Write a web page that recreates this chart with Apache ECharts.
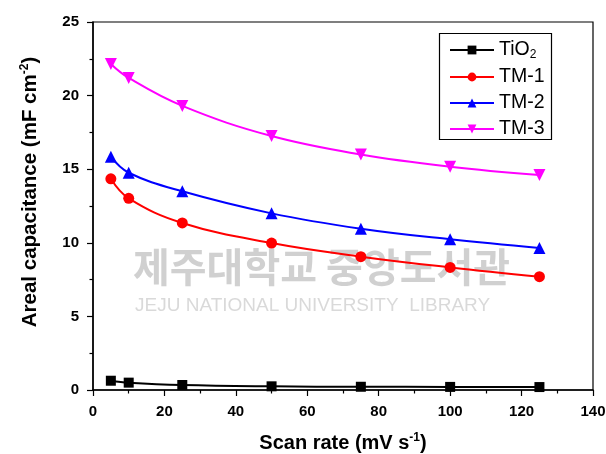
<!DOCTYPE html>
<html><head><meta charset="utf-8">
<script src="https://cdn.jsdelivr.net/npm/echarts@6/dist/echarts.min.js"></script>
<style>html,body{margin:0;padding:0;background:#fff}#c{width:606px;height:454px}</style>
</head><body><div id="c"></div>
<script>
const scanRates = [5, 10, 25, 50, 75, 100, 125];
const tio2 = [0.63, 0.5, 0.34, 0.25, 0.22, 0.21, 0.2];
const tm1 = [14.35, 13.02, 11.35, 9.98, 9.06, 8.33, 7.7];
const tm2 = [15.85, 14.76, 13.5, 12.0, 10.96, 10.24, 9.65];
const tm3 = [22.15, 21.2, 19.3, 17.25, 16.0, 15.17, 14.6];
const xTicks = [0, 20, 40, 60, 80, 100, 120, 140];
const yTicks = [0, 5, 10, 15, 20, 25];
const seriesNames = ['TiO2', 'TM-1', 'TM-2', 'TM-3'];

const font = '"Liberation Sans", Arial, sans-serif';
const chart = echarts.init(document.getElementById('c'), null, {renderer: 'canvas'});
const pairs = arr => scanRates.map((x, i) => [x, arr[i]]);
function mk(name, data, color, symbol, size, rot) {
  return {
    name, type: 'line', data: pairs(data), smooth: 0.4,
    symbol, symbolSize: size, symbolRotate: rot || 0,
    lineStyle: {color, width: 2}, itemStyle: {color},
    z: 5
  };
}
const titleRich = (fs) => ({
  t: {fontFamily: font, fontWeight: 'bold', fontSize: fs, color: '#000'},
  sup: {fontFamily: font, fontWeight: 'bold', fontSize: 12, color: '#000', verticalAlign: 'top', padding: [0, 0, 10, 0]}
});
chart.setOption({
  animation: false,
  backgroundColor: '#fff',
  grid: {left: 93, right: 13, top: 22, bottom: 64, show: true, borderColor: '#000', borderWidth: 1.2,
    containLabel: false, outerBoundsMode: 'none'},
  xAxis: {
    type: 'value', min: 0, max: 140, interval: 20,
    axisLine: {show: true, lineStyle: {color: '#000', width: 1.5}},
    axisTick: {show: true, inside: false, length: 6, lineStyle: {color: '#000', width: 1.2}},
    minorTick: {show: true, splitNumber: 2, length: 3.5, lineStyle: {color: '#000', width: 1.2}},
    splitLine: {show: false},
    axisLabel: {color: '#000', fontFamily: font, fontWeight: 'bold', fontSize: 15, margin: 14,
      formatter: v => xTicks.includes(v) ? String(v) : ''},
    name: '{t|Scan rate (mV s}{sup|-1}{t|)}', nameLocation: 'middle', nameGap: 42,
    nameTextStyle: {rich: titleRich(20)}
  },
  yAxis: {
    type: 'value', min: 0, max: 25, interval: 5,
    axisLine: {show: true, lineStyle: {color: '#000', width: 1.5}},
    axisTick: {show: true, inside: false, length: 6, lineStyle: {color: '#000', width: 1.2}},
    minorTick: {show: true, splitNumber: 2, length: 3.5, lineStyle: {color: '#000', width: 1.2}},
    splitLine: {show: false},
    axisLabel: {color: '#000', fontFamily: font, fontWeight: 'bold', fontSize: 15, margin: 14,
      formatter: v => yTicks.includes(v) ? String(v) : ''},
    name: '{t|Areal capacitance (mF cm}{sup|-2}{t|)}', nameLocation: 'middle', nameGap: 52, nameRotate: 90,
    nameTextStyle: {rich: titleRich(20.5), padding: [0, 0, 0, 28]}
  },
  legend: {
    orient: 'vertical', left: 449, top: 40, itemWidth: 44, itemHeight: 11, itemGap: 6,
    data: seriesNames,
    formatter: n => n === 'TiO2' ? '{t|TiO}{sub|2}' : '{t|' + n + '}',
    textStyle: {rich: {
      t: {fontFamily: font, fontSize: 19.5, color: '#000'},
      sub: {fontFamily: font, fontSize: 12, color: '#000', verticalAlign: 'bottom', padding: [10, 0, 0, 0]}
    }},
    padding: 0, itemStyle: {borderWidth: 0}
  },
  graphic: [
    {type: 'rect', left: 437, top: 31, shape: {width: 112, height: 106}, style: {fill: 'none', stroke: '#000', lineWidth: 1.2}, z: 10},
    {type: 'text', left: 133, top: 247, style: {text: '제주대학교 중앙도서관', font: 'bold 40px "Noto Sans CJK KR", sans-serif', fill: 'rgba(150,150,150,0.45)'}, z: 0},
    {type: 'text', left: 135, top: 296, style: {text: 'JEJU NATIONAL UNIVERSITY  LIBRARY', font: '19px "Liberation Sans", Arial, sans-serif', fill: 'rgba(160,160,160,0.4)'}, z: 0}
  ],
  series: [
    mk('TiO2', tio2, '#000000', 'rect', 10),
    mk('TM-1', tm1, '#ff0000', 'circle', 11),
    mk('TM-2', tm2, '#0000ff', 'triangle', 12),
    mk('TM-3', tm3, '#ff00ff', 'triangle', 12, 180)
  ]
});
</script></body></html>
